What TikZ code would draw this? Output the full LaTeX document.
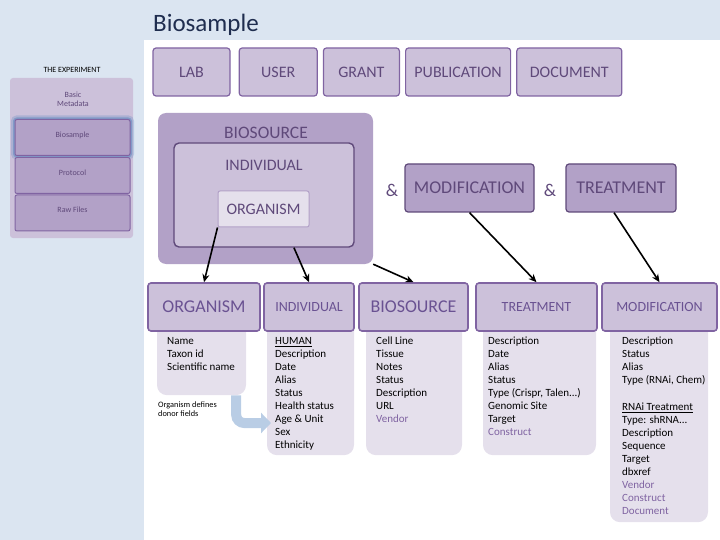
\documentclass[tikz,border=0pt]{standalone}
\usepackage{fontspec}
\setmainfont{Carlito}
\usepackage{tikz}
\usetikzlibrary{arrows.meta,positioning,calc}
\definecolor{band}{HTML}{DBE5F1}
\definecolor{lilac}{HTML}{CCC1DA}
\definecolor{mauve}{HTML}{B2A1C7}
\definecolor{pale}{HTML}{E5E0EC}
\definecolor{edge}{HTML}{8064A2}
\definecolor{deep}{HTML}{5F497A}
\definecolor{navy}{HTML}{1F2D4F}
\definecolor{glow}{HTML}{4F81BD}
\definecolor{flowblue}{HTML}{B9CDE5}
\definecolor{ink}{HTML}{6A5292}
\tikzset{
  tab/.style={draw=edge,fill=lilac,rounded corners=3pt,line width=1.2pt,minimum height=48pt,
    text=deep,font=\fontsize{16}{18}\selectfont,inner sep=0pt},
  head/.style={draw=edge,fill=lilac,rounded corners=3pt,line width=1.6pt,minimum height=48pt,
    text=ink,inner sep=0pt},
  body/.style={fill=pale,rounded corners=10pt,anchor=north,inner sep=0pt},
  fields/.style={align=left,anchor=north west,inner sep=0pt,font=\fontsize{11}{13}\selectfont},
  arr/.style={-{Stealth[length=8pt,width=7pt]},line width=1.6pt},
  side/.style={draw=edge,fill=mauve,rounded corners=2pt,line width=1pt,minimum width=115pt,
    minimum height=36pt,text=deep,font=\fontsize{8}{9}\selectfont,inner sep=0pt},
  flow/.style={draw=flowblue,line width=10pt,rounded corners=8pt,-{Triangle[length=10pt,width=20pt]}}
}
\begin{document}
\begin{tikzpicture}[x=1pt,y=-1pt]
 \useasboundingbox (0,0) rectangle (720,540);
 \fill[band] (0,0) rectangle (144,540);
 \fill[band] (0,0) rectangle (720,40);
 \node[anchor=west,inner sep=0pt,font=\fontsize{25}{30}\selectfont,text=navy] (title) at (153,25) {Biosample};
 \node[font=\fontsize{8}{9}\selectfont] (exp) at (72,70) {THE EXPERIMENT};
 \node[fill=lilac,rounded corners=3pt,minimum width=123pt,minimum height=160pt] (expbox) at (71.5,158) {};
 \node[align=center,text=deep,font=\fontsize{8}{9}\selectfont] (meta) at (73,99.5) {Basic\\Metadata};
 \node[side,text depth=6pt,preaction={draw=glow,line width=8pt,opacity=.25},
   preaction={draw=glow,line width=4pt,opacity=.45}] (bsitem) at (72.5,137.5) {Biosample};
 \node[side,text depth=6pt] (protitem) at (72.5,175.5) {Protocol};
 \node[side,text depth=6pt] (rawitem) at (72.5,213) {Raw Files};

 \node[tab,minimum width=77pt] (lab) at (191.5,72) {LAB};
 \node[tab,minimum width=78pt,right=8pt of lab] (user) {USER};
 \node[tab,minimum width=76pt,right=5pt of user] (grant) {GRANT};
 \node[tab,minimum width=105pt,right=5pt of grant] (pub) {PUBLICATION};
 \node[tab,minimum width=105pt,right=5pt of pub] (doc) {DOCUMENT};

 \node[fill=mauve,rounded corners=8pt,minimum width=215pt,minimum height=151pt,inner sep=0pt] (bsbox) at (265.5,188.5) {};
 \node[text=deep,inner sep=0pt,font=\fontsize{17.5}{20}\selectfont] (bstitle) at (266,133) {BIOSOURCE};
 \node[draw=deep,fill=lilac,line width=1.4pt,rounded corners=5pt,minimum width=180pt,minimum height=104pt] (indin) at (264,195) {};
 \node[text=deep,inner sep=0pt,font=\fontsize{16}{18}\selectfont] (indtitle) at (264,165) {INDIVIDUAL};
 \node[draw=mauve,fill=pale,line width=1pt,rounded corners=2pt,minimum width=91pt,minimum height=36pt,
   inner sep=0pt,text=deep,font=\fontsize{16}{18}\selectfont] (orgin) at (263.5,209) {ORGANISM};
 \node[text=deep,font=\fontsize{18}{20}\selectfont] (amp1) at (392,190) {\&};
 \node[tab,fill=mauve,draw=deep,minimum width=129pt,font=\fontsize{18}{20}\selectfont] (modbox) at (469.5,188) {MODIFICATION};
 \node[text=deep,font=\fontsize{18}{20}\selectfont] (amp2) at (550,190) {\&};
 \node[tab,fill=mauve,draw=deep,minimum width=110pt,font=\fontsize{18}{20}\selectfont] (trbox) at (621,188) {TREATMENT};

 \node[body,minimum width=89pt,minimum height=90pt] (orgbody) at (201.5,305) {};
 \node[body,minimum width=87pt,minimum height=150pt] (indbody) at (310.5,305) {};
 \node[body,minimum width=96pt,minimum height=150pt] (bsbody) at (414,305) {};
 \node[body,minimum width=113pt,minimum height=150pt] (trbody) at (539.5,305) {};
 \node[body,minimum width=98pt,minimum height=217pt] (modbody) at (659,305) {};

 \node[head,minimum width=112pt,font=\fontsize{18}{20}\selectfont] (orgh) at (204,307) {ORGANISM};
 \node[head,minimum width=90pt,font=\fontsize{14}{16}\selectfont] (indh) at (309,307) {INDIVIDUAL};
 \node[head,minimum width=109pt,font=\fontsize{18}{20}\selectfont] (bsh) at (413.5,307) {BIOSOURCE};
 \node[head,minimum width=121pt,font=\fontsize{14}{16}\selectfont] (trh) at (536.5,307) {TREATMENT};
 \node[head,minimum width=115pt,font=\fontsize{14}{16}\selectfont] (modh) at (659.5,307) {MODIFICATION};

 \node[fields] (orgfields) at (167,337) {Name\\Taxon id\\Scientific name};
 \node[fields] (indfields) at (275,337) {\underline{HUMAN}\\Description\\Date\\Alias\\Status\\Health status\\Age \& Unit\\Sex\\Ethnicity};
 \node[fields] (bsfields) at (376,337) {Cell Line\\Tissue\\Notes\\Status\\Description\\URL\\\textcolor{edge}{Vendor}};
 \node[fields] (trfields) at (488,337) {Description\\Date\\Alias\\Status\\Type (Crispr, Talen...)\\Genomic Site\\Target\\\textcolor{edge}{Construct}};
 \node[fields] (modfields) at (622,337) {Description\\Status\\Alias\\Type (RNAi, Chem)\\[14pt]\underline{RNAi Treatment}\\Type: shRNA...\\Description\\Sequence\\Target\\dbxref\\\textcolor{edge}{Vendor}\\\textcolor{edge}{Construct}\\\textcolor{edge}{Document}};

 \coordinate (donor) at (271,423);
 \draw[flow] ([xshift=-10pt]orgbody.south east) |- (donor);
 \node[anchor=north west,align=left,inner sep=0pt,font=\fontsize{8.3}{9}\selectfont] (donortext) at (158,402) {Organism defines\\donor fields};

 \draw[arr] (orgin.south west) -- (orgh.north);
 \draw[arr] ($(indin.south)!0.33!(indin.south east)$) -- (indh.north);
 \draw[arr] (bsbox.south east) -- (bsh.north);
 \draw[arr] (modbox.south) -- (trh.north);
 \draw[arr] ([xshift=-7pt]trbox.south) -- (modh.north);
\end{tikzpicture}
\end{document}
